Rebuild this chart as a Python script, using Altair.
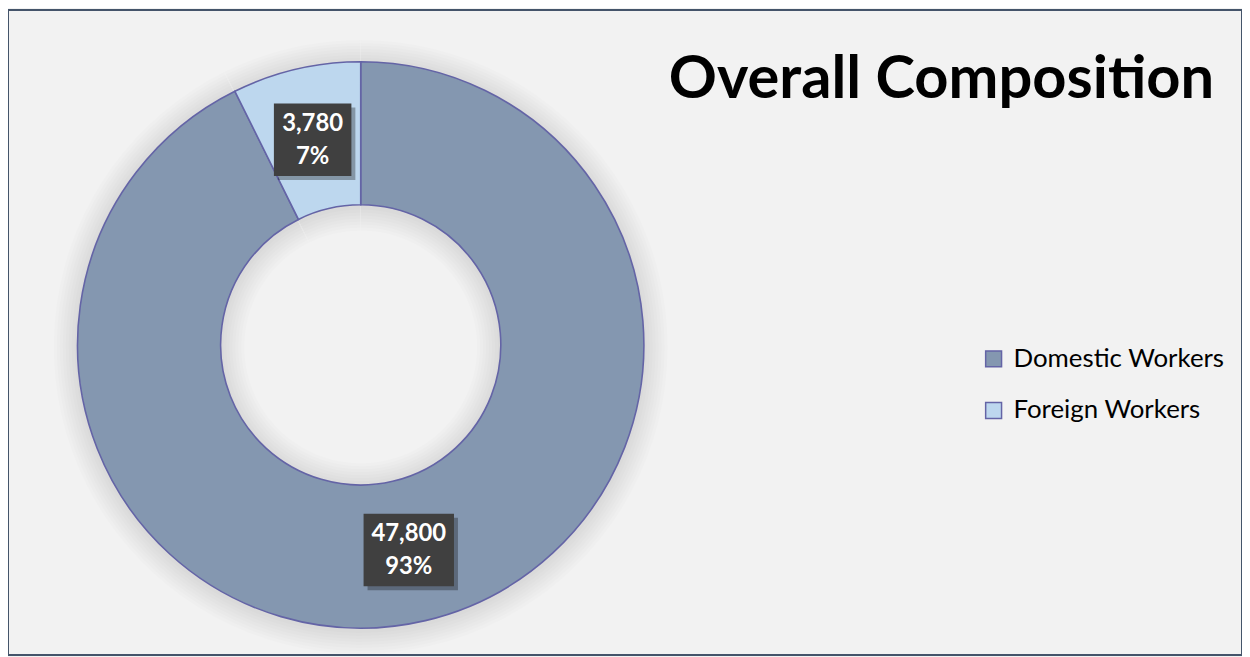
import altair as alt
import pandas as pd

# ---- data ----
categories = ["Domestic Workers", "Foreign Workers"]
values = [47800, 3780]
order_idx = [0, 1]
title_text = ["Overall Composition"]

colors = ["#8497B0", "#BDD7EE"]
stroke_col = "#6464A6"
FONT = "Lato"

df = pd.DataFrame({"category": categories, "value": values, "idx": order_idx})
title_df = pd.DataFrame({"t": title_text})

W, H = 1242, 649
CX, CY = 355, 337
R_OUT, R_IN = 285, 141
R_LAB = 212

base = alt.Chart(df)

# soft shadow rings
shadow_layers = []
for k in range(3, 27, 3):
    shadow_layers.append(
        base.mark_arc(
            innerRadius=R_IN - k, outerRadius=R_OUT + k, color="#000000", opacity=0.013
        ).encode(
            theta=alt.Theta("value:Q", stack=True),
            order=alt.Order("idx:Q"),
            x=alt.value(CX),
            y=alt.value(CY + 2),
        )
    )

donut = base.mark_arc(
    innerRadius=R_IN, outerRadius=R_OUT, stroke=stroke_col, strokeWidth=1.6
).encode(
    theta=alt.Theta("value:Q", stack=True),
    order=alt.Order("idx:Q"),
    color=alt.Color(
        "category:N",
        scale=alt.Scale(domain=categories, range=colors),
        legend=alt.Legend(
            title=None,
            orient="none",
            legendX=979,
            legendY=338,
            symbolType="square",
            symbolSize=256,
            symbolStrokeColor=stroke_col,
            symbolStrokeWidth=1.5,
            labelFont=FONT,
            labelFontSize=26,
            labelColor="#000000",
            labelOffset=7,
            labelLimit=0,
            rowPadding=26,
            padding=0,
        ),
    ),
    x=alt.value(CX),
    y=alt.value(CY),
)

pos = (
    base.transform_joinaggregate(total="sum(value)")
    .transform_window(cum="sum(value)", sort=[{"field": "idx"}], frame=[None, 0])
    .transform_calculate(
        ang="2*PI*(datum.cum - datum.value/2)/datum.total",
        px="sin(datum.ang)",
        py="cos(datum.ang)",
        label="format(datum.value, ',') + '\\n' + format(datum.value/datum.total, '.0%')",
        hw="0.13 + 0.13*length(format(datum.value, ','))",
        box="'M' + (-datum.hw) + ',-0.73L' + datum.hw + ',-0.73L' + datum.hw + ',0.73L' + (-datum.hw) + ',0.73Z'",
    )
)

xenc = alt.X("px:Q", axis=None, scale=alt.Scale(domain=[-1, 1], range=[CX - R_LAB, CX + R_LAB]))
yenc = alt.Y("py:Q", axis=None, scale=alt.Scale(domain=[-1, 1], range=[CY + R_LAB, CY - R_LAB]))

box_shadow = pos.mark_point(filled=True, color="#000000", opacity=0.3, size=10000).encode(
    x=xenc, y=yenc, shape=alt.Shape("box:N", scale=None, legend=None),
    xOffset=alt.value(4), yOffset=alt.value(4),
)
boxes = pos.mark_point(filled=True, color="#404040", opacity=1, size=10000).encode(
    x=xenc, y=yenc, shape=alt.Shape("box:N", scale=None, legend=None)
)
labels = pos.mark_text(
    color="#FFFFFF", font=FONT, fontSize=24, fontWeight="bold",
    lineBreak="\n", lineHeight=33, align="center", baseline="middle", dy=-16,
).encode(x=xenc, y=yenc, text="label:N")

title = alt.Chart(title_df).mark_text(
    font=FONT, fontSize=60, fontWeight="bold", color="#000000",
    align="right", baseline="alphabetic",
).encode(x=alt.value(1214), y=alt.value(88), text="t:N")

chart = alt.layer(*shadow_layers, donut, box_shadow, boxes, labels, title).properties(
    width=W, height=H, padding=0,
    autosize=alt.AutoSizeParams(type="none"),
    background="#F2F2F2",
).configure_view(stroke="#44546A", strokeWidth=2, fill="#F2F2F2")

chart.save("out.html", embed_options={"renderer": "svg", "actions": False})
